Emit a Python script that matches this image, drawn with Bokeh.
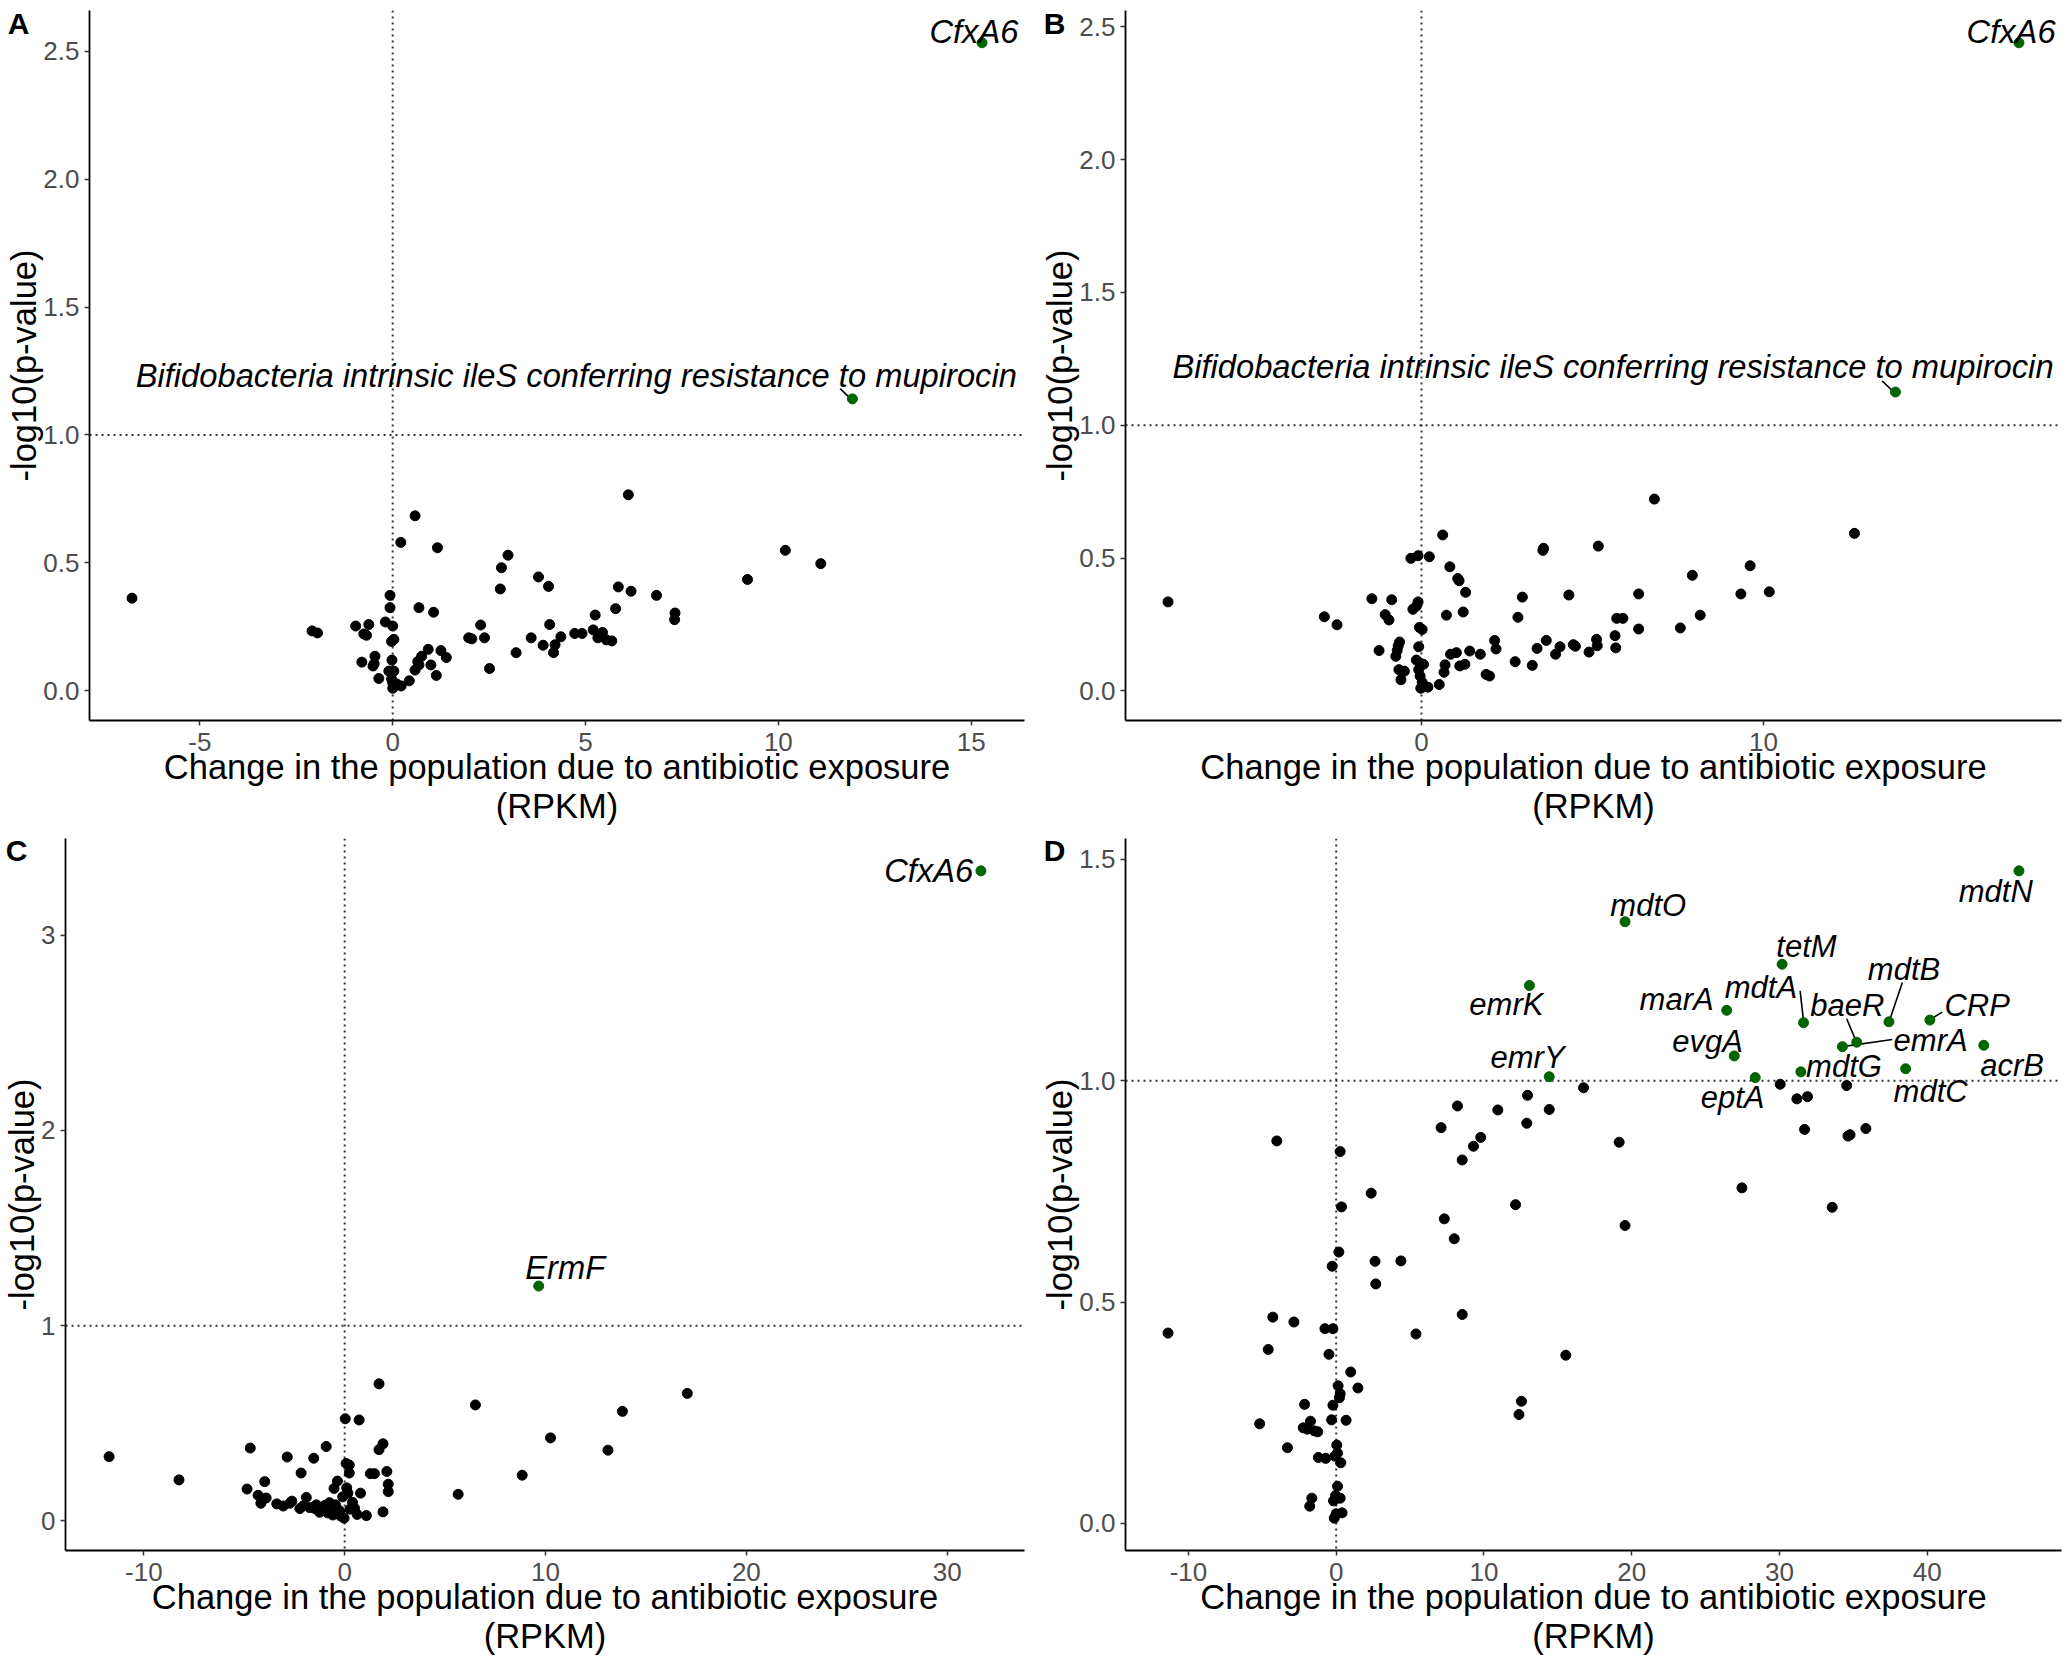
from bokeh.plotting import figure
from bokeh.layouts import column, row
from bokeh.models import Span, FixedTicker, Range1d, ColumnDataSource, LinearAxis
from bokeh.core.properties import value
from bokeh.embed import file_html
from bokeh.resources import INLINE

# ---------------- Panel A ----------------
a_x = [-6.76,-2.09,-1.95,-0.96,-0.75,-0.68,-0.62,-0.80,-0.46,-0.48,-0.51,-0.36,-0.19,-0.07,-0.07,0.00,-0.03,0.03,-0.02,-0.10,
       0.03,-0.03,0.00,0.00,0.05,0.10,0.22,0.43,0.21,0.58,0.58,0.68,0.68,0.75,0.65,0.92,0.99,1.06,1.13,1.16,
       1.25,1.39,1.97,2.05,2.28,2.38,2.51,2.79,2.82,2.99,3.20,3.59,3.78,3.90,4.04,4.07,4.17,4.21,4.36,4.72,
       4.91,5.20,5.25,5.32,5.44,5.54,5.68,5.78,5.85,6.11,6.18,6.84,7.32,7.31,9.20,10.18,11.10]
a_y = [0.362,0.234,0.226,0.253,0.222,0.217,0.259,0.112,0.135,0.106,0.097,0.048,0.269,0.373,0.325,0.253,0.193,0.201,0.120,0.077,
       0.077,0.046,0.031,0.010,0.019,0.027,0.019,0.039,0.580,0.684,0.081,0.325,0.101,0.135,0.114,0.162,0.101,0.307,0.060,0.559,
       0.157,0.130,0.207,0.203,0.257,0.207,0.087,0.398,0.481,0.530,0.149,0.207,0.445,0.178,0.408,0.259,0.149,0.180,0.211,0.224,
       0.224,0.238,0.296,0.207,0.228,0.199,0.195,0.321,0.406,0.766,0.389,0.373,0.304,0.278,0.435,0.549,0.497]
a_genes = ["CfxA6", "Bifidobacteria intrinsic ileS conferring resistance to mupirocin"]
a_gx = [15.28, 11.92]
a_gy = [2.533, 1.141]
a_lx = [15.07, 4.76]
a_ly = [2.579, 1.232]
a_seg = [(11.60, 1.181, 11.82, 1.150)]

# ---------------- Panel B ----------------
b_x = [-7.41,-2.84,-2.47,-1.45,-1.24,-1.06,-0.95,-0.87,-0.75,-0.68,-0.64,-0.71,-0.66,-0.60,-0.50,-0.31,-0.10,-0.25,-0.15,-0.10,
       -0.06,0.02,-0.15,-0.08,-0.04,0.06,-0.08,-0.04,0.02,-0.02,0.08,0.19,0.23,0.52,0.62,0.66,0.69,0.73,0.83,0.85,
       1.02,1.06,1.10,1.12,1.22,1.27,1.29,1.41,1.72,1.89,1.99,2.14,2.18,2.74,2.82,2.95,3.24,3.38,3.55,3.57,
       3.65,3.92,4.05,4.31,4.44,4.50,4.90,5.12,5.14,5.17,5.66,5.68,5.71,5.89,6.35,6.35,6.81,7.57,7.92,8.15,
       9.34,9.61,10.17,12.66]
b_y = [0.335,0.279,0.249,0.347,0.152,0.287,0.267,0.343,0.130,0.170,0.184,0.152,0.080,0.042,0.074,0.499,0.509,0.307,0.319,0.335,
       0.239,0.231,0.116,0.166,0.104,0.100,0.080,0.056,0.032,0.010,0.016,0.014,0.505,0.024,0.587,0.070,0.098,0.285,0.467,0.138,
       0.144,0.423,0.415,0.094,0.297,0.100,0.371,0.150,0.138,0.062,0.056,0.190,0.158,0.110,0.277,0.353,0.096,0.160,0.529,0.537,
       0.190,0.138,0.166,0.361,0.174,0.168,0.146,0.194,0.170,0.545,0.208,0.162,0.273,0.273,0.365,0.233,0.722,0.237,0.435,0.285,
       0.365,0.471,0.373,0.593]
b_genes = ["CfxA6", "Bifidobacteria intrinsic ileS conferring resistance to mupirocin"]
b_gx = [17.47, 13.86]
b_gy = [2.440, 1.125]
b_lx = [17.24, 5.60]
b_ly = [2.484, 1.221]
b_seg = [(13.47, 1.167, 13.76, 1.131)]

# ---------------- Panel C ----------------
c_x = [-11.73,-8.25,-4.86,-4.70,-4.31,-4.17,-3.98,-3.91,-4.11,-3.38,-3.06,-2.86,-2.73,-2.63,-2.23,-2.17,-2.07,-1.91,-1.74,-1.54,
       -1.48,-1.41,-1.25,-1.08,-0.99,-0.92,-0.85,-0.76,-0.69,-0.59,-0.53,-0.46,-0.36,-0.26,-0.20,-0.10,-0.03,0.03,0.07,0.10,
       0.16,0.23,0.23,0.26,0.39,0.49,0.62,0.72,0.79,1.08,1.28,1.48,1.71,1.71,1.91,1.91,2.10,2.17,2.17,5.65,
       6.51,8.84,10.25,13.11,13.83,17.06]
c_y = [0.329,0.210,0.163,0.373,0.131,0.090,0.201,0.117,0.109,0.087,0.076,0.327,0.090,0.101,0.063,0.245,0.076,0.120,0.068,0.321,
       0.063,0.082,0.044,0.057,0.079,0.381,0.041,0.093,0.060,0.030,0.166,0.082,0.204,0.052,0.025,0.123,0.014,0.523,0.294,0.169,
       0.142,0.286,0.245,0.060,0.095,0.065,0.033,0.517,0.142,0.027,0.242,0.242,0.702,0.365,0.395,0.046,0.253,0.188,0.150,0.136,
       0.594,0.234,0.425,0.362,0.561,0.653]
c_genes = ["CfxA6", "ErmF"]
c_gx = [31.68, 9.66]
c_gy = [3.330, 1.203]
c_lx = [29.08, 10.98]
c_ly = [3.330, 1.299]
c_seg = []

# ---------------- Panel D ----------------
d_x = [-11.38,-5.18,-4.60,-4.29,-4.02,-3.30,-2.86,-2.14,-2.23,-1.96,-1.74,-1.79,-1.65,-1.47,-1.25,-1.21,-0.71,-0.76,-0.49,-0.27,
       -0.22,-0.31,-0.22,-0.18,-0.13,-0.09,-0.04,0.00,0.04,0.09,0.09,0.13,0.18,0.22,0.27,0.27,0.31,0.27,0.36,0.40,
       0.67,0.98,1.47,2.37,2.63,2.68,4.38,5.40,7.10,7.32,7.99,8.21,8.53,8.53,9.29,9.78,10.94,12.14,12.37,12.54,
       12.90,12.95,14.42,15.54,16.74,19.15,19.55,27.46,30.05,31.18,31.70,31.90,33.57,34.55,34.64,34.78,35.85]
d_y = [0.430,0.225,0.393,0.466,0.864,0.171,0.455,0.269,0.216,0.213,0.231,0.039,0.057,0.209,0.207,0.149,0.147,0.440,0.382,0.581,
       0.440,0.234,0.267,0.051,0.012,0.152,0.063,0.022,0.177,0.159,0.084,0.311,0.613,0.284,0.293,0.840,0.137,0.057,0.715,0.024,
       0.233,0.342,0.306,0.746,0.592,0.541,0.593,0.428,0.894,0.688,0.643,0.943,0.821,0.472,0.852,0.872,0.934,0.720,0.246,0.276,
       0.904,0.967,0.935,0.380,0.984,0.861,0.673,0.758,0.992,0.959,0.890,0.964,0.714,0.989,0.875,0.878,0.892]
d_genes = ["mdtN","mdtO","tetM","emrK","marA","mdtA","mdtB","CRP","baeR","emrA","acrB","evgA","emrY","eptA","mdtG","mdtC"]
d_gx = [46.21,19.55,30.18,13.08,26.43,31.63,37.41,40.18,35.23,34.26,43.83,26.94,14.42,28.36,31.45,38.54]
d_gy = [1.474,1.359,1.263,1.215,1.159,1.131,1.133,1.137,1.087,1.077,1.080,1.056,1.009,1.007,1.020,1.027]
d_lx = [44.64,21.12,31.83,11.52,23.04,28.75,38.43,43.38,34.60,40.23,45.75,25.13,12.95,26.83,34.37,40.23]
d_ly = [1.428,1.396,1.304,1.172,1.184,1.211,1.252,1.169,1.169,1.090,1.035,1.089,1.053,0.961,1.032,0.976]
d_seg = [(31.40,1.203,31.63,1.135),(38.32,1.222,37.48,1.139),(41.02,1.155,40.23,1.139),
         (34.55,1.140,35.18,1.090),(37.64,1.093,34.26,1.077)]

FONT = "Liberation Sans"
GREEN = "#006400"


def padded(vals):
    lo, hi = min(vals), max(vals)
    pad = 0.05 * (hi - lo)
    return lo - pad, hi + pad


def panel(letter, xs, ys, genes, gx, gy, lx, ly, segs, xticks, yticks, yfmt,
          borders, letter_px, label_size, width=1036, height=829):
    x0, x1 = padded(xs + gx)
    y0, y1 = padded(ys + gy)
    p = figure(width=width, height=height, output_backend="svg", toolbar_location=None,
               x_range=Range1d(x0, x1), y_range=Range1d(y0, y1),
               min_border_left=borders[0], min_border_right=borders[1],
               min_border_top=borders[2], min_border_bottom=borders[3])
    p.outline_line_color = None
    p.grid.visible = False
    p.background_fill_color = "white"
    p.border_fill_color = "white"

    p.add_layout(Span(location=0, dimension="height", line_color="#333333",
                      line_dash="2 4", line_width=2, level="underlay"))
    p.add_layout(Span(location=1, dimension="width", line_color="#333333",
                      line_dash="2 4", line_width=2, level="underlay"))

    p.scatter(xs, ys, size=10, color="black")
    for (sx0, sy0, sx1, sy1) in segs:
        p.segment(x0=[sx0], y0=[sy0], x1=[sx1], y1=[sy1], line_color="black", line_width=1.6)
    p.scatter(gx, gy, size=10, color=GREEN)
    src = ColumnDataSource(dict(x=lx, y=ly, t=genes))
    p.text(x="x", y="y", text="t", source=src, text_font=value(FONT), text_font_style="italic",
           text_font_size=label_size, text_align="center", text_baseline="middle", text_color="black")

    for ax in (p.xaxis[0], p.yaxis[0]):
        ax.axis_line_color = "black"
        ax.axis_line_width = 1.8
        ax.major_tick_line_color = "#333333"
        ax.major_tick_line_width = 1.5
        ax.major_tick_out = 5
        ax.major_tick_in = 0
        ax.minor_tick_line_color = None
        ax.major_label_text_font = FONT
        ax.major_label_text_font_size = "26px"
        ax.major_label_text_color = "#4D4D4D"
        ax.axis_label_text_font = FONT
        ax.axis_label_text_font_size = "34.5px"
        ax.axis_label_text_font_style = "normal"
        ax.axis_label_text_color = "black"
        ax.axis_label_text_line_height = 1.03
    p.xaxis.ticker = FixedTicker(ticks=xticks)
    p.yaxis.ticker = FixedTicker(ticks=yticks)
    p.xaxis.major_label_overrides = {t: f"{t:g}" for t in xticks}
    p.yaxis.major_label_overrides = {t: (yfmt % t) for t in yticks}
    p.xaxis.axis_label = "Change in the population due to antibiotic exposure\n(RPKM)"
    p.yaxis.axis_label = "-log10(p-value)"
    p.xaxis.major_label_standoff = 7
    p.yaxis.major_label_standoff = 5
    p.xaxis.axis_label_standoff = -6
    p.yaxis.axis_label_standoff = -3

    # panel letter drawn as the only tick label of an extra, line-less left axis
    frame_h = height - borders[2] - borders[3]
    y_letter = y1 - letter_px * (y1 - y0) / frame_h
    tag = LinearAxis(ticker=FixedTicker(ticks=[y_letter]),
                     major_label_overrides={y_letter: letter},
                     axis_line_color=None, major_tick_line_color=None, minor_tick_line_color=None,
                     major_tick_out=0, major_tick_in=0, major_label_standoff=-27,
                     major_label_text_font=FONT, major_label_text_font_style="bold",
                     major_label_text_font_size="30px", major_label_text_color="black")
    p.add_layout(tag, "left")
    return p


pa = panel("A", a_x, a_y, a_genes, a_gx, a_gy, a_lx, a_ly, a_seg,
           [-5, 0, 5, 10, 15], [0, 0.5, 1.0, 1.5, 2.0, 2.5], "%.1f", (89, 12, 10, 109), 13, "32.7px")
pb = panel("B", b_x, b_y, b_genes, b_gx, b_gy, b_lx, b_ly, b_seg,
           [-10, 0, 10], [0, 0.5, 1.0, 1.5, 2.0, 2.5], "%.1f", (89, 11, 10, 109), 13, "32.7px")
pc = panel("C", c_x, c_y, c_genes, c_gx, c_gy, c_lx, c_ly, c_seg,
           [-10, 0, 10, 20, 30], [0, 1, 2, 3], "%g", (65, 12, 9, 108), 12, "32.7px")
pd_ = panel("D", d_x, d_y, d_genes, d_gx, d_gy, d_lx, d_ly, d_seg,
            [-10, 0, 10, 20, 30, 40], [0, 0.5, 1.0, 1.5], "%.1f", (89, 11, 9, 108), 12, "31px")

layout = column(row(pa, pb), row(pc, pd_))

with open("out.html", "w") as f:
    f.write(file_html(layout, INLINE))
